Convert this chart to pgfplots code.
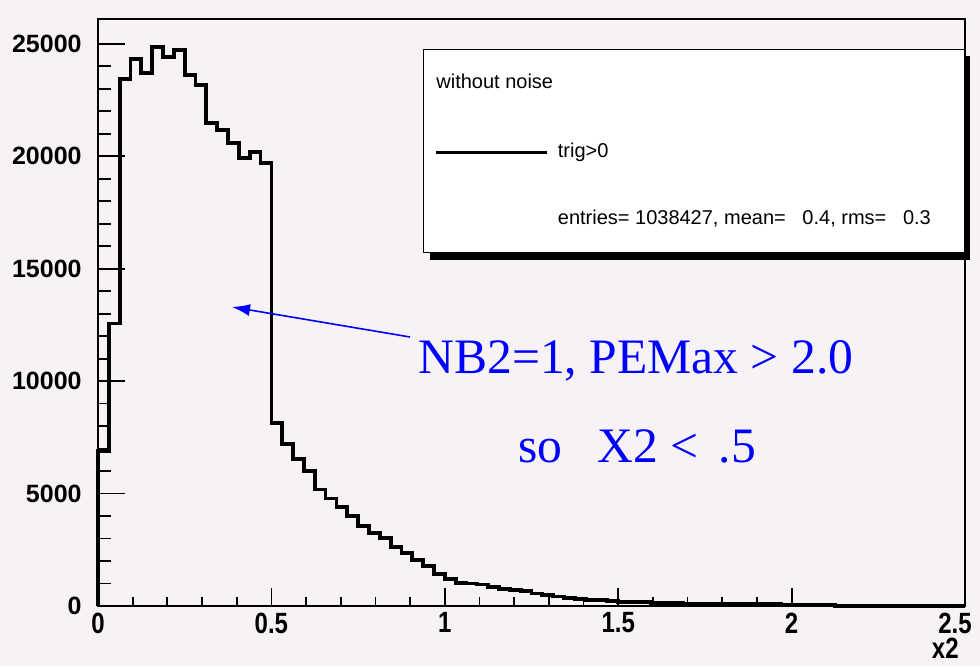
\documentclass[border=0pt]{standalone}
\usepackage{pgfplots}
\pgfplotsset{compat=1.18}
\usepackage{pgfplotstable}
\usepackage{fontspec}
\setmainfont{Liberation Sans}
\newfontfamily\timesfont{Liberation Serif}
\usetikzlibrary{arrows.meta}

\definecolor{bgcol}{RGB}{246,242,246}
\definecolor{noteblue}{RGB}{0,0,255}

% x2 histogram, 80 bins of 0.03125 (left edges), trig>0 without noise
\pgfplotstableread{
x y
0 0
0 6900
0.03125 12560
0.0625 23440
0.09375 24330
0.125 23690
0.15625 24850
0.1875 24400
0.21875 24730
0.25 23620
0.28125 23150
0.3125 21470
0.34375 21150
0.375 20580
0.40625 19920
0.4375 20180
0.46875 19690
0.5 8140
0.53125 7200
0.5625 6530
0.59375 6010
0.625 5180
0.65625 4780
0.6875 4410
0.71875 4000
0.75 3550
0.78125 3260
0.8125 3010
0.84375 2610
0.875 2370
0.90625 2040
0.9375 1790
0.96875 1440
1.0 1210
1.03125 1010
1.0625 1000
1.09375 960
1.125 860
1.15625 760
1.1875 700
1.21875 660
1.25 560
1.28125 500
1.3125 420
1.34375 350
1.375 320
1.40625 270
1.4375 250
1.46875 220
1.5 190
1.53125 180
1.5625 170
1.59375 150
1.625 130
1.65625 120
1.6875 110
1.71875 100
1.75 95
1.78125 90
1.8125 90
1.84375 85
1.875 80
1.90625 80
1.9375 75
1.96875 70
2.0 70
2.03125 65
2.0625 60
2.09375 60
2.125 0
2.5 0
}\histdata

\pgfplotsset{
  frame/.style={
    at={(49pt,30pt)}, anchor=south west,
    scale only axis, width=433.5pt, height=293.5pt,
    xmin=0, xmax=2.5, ymin=0, ymax=26100,
    tick align=inside, tick pos=left,
    axis line style={line width=0.9pt},
    tick style={black, line width=0.9pt},
    /pgf/number format/assume math mode=true,
    /pgf/number format/1000 sep={},
    scaled ticks=false,
    clip=false,
  },
}

\begin{document}
\begin{tikzpicture}
\fill[bgcol] (0,0) rectangle (490pt,333pt);

% x ticks and the histogram
\begin{axis}[
  frame,
  xtick={0,0.5,1,1.5,2}, minor x tick num=4,
  extra x ticks={2.5},
  extra x tick style={xticklabel style={xshift=-5pt}},
  ytick=\empty,
  major tick length=9pt, minor tick length=4.5pt,
  xticklabel style={font=\bfseries\fontsize{12}{12}\selectfont, yscale=1.22,
    inner sep=0pt, anchor=north, yshift=-2.5pt},
  xlabel={x2},
  x label style={at={(rel axis cs:1,0)}, anchor=north east, inner sep=0pt,
    yshift=-16pt, xshift=-3pt, font=\bfseries\fontsize{12}{12}\selectfont, yscale=1.22},
]
\addplot[const plot mark left, black, line width=1.9pt, line join=miter] table[x=x, y=y] {\histdata};
\end{axis}

% y ticks
\begin{axis}[
  frame,
  xtick=\empty,
  ytick={0,5000,10000,15000,20000,25000}, minor y tick num=4,
  major tick length=13.5pt, minor tick length=6.5pt,
  yticklabel style={font=\bfseries\fontsize{12.5}{12.5}\selectfont, inner sep=0pt,
    anchor=east, xshift=-8pt},
]
\end{axis}

\begin{scope}[x=0.5pt, y=-0.5pt, yshift=333pt]
  % stats box
  \fill[black] (430,56) rectangle (970,259.6);
  \filldraw[fill=white, draw=black, line width=0.5pt] (423.6,49) rectangle (964.6,252.5);
  \node[anchor=west, inner sep=0pt, font=\fontsize{10}{12}\selectfont] at (436,81) {without noise};
  \draw[black, line width=1.75pt] (436,152.5) -- (547,152.5);
  \node[anchor=west, inner sep=0pt, font=\fontsize{10}{12}\selectfont] at (557.5,152.5) {trig>0};
  \node[anchor=west, inner sep=0pt, font=\fontsize{10}{12}\selectfont] at (557.5,218.6)
    {entries= 1038427, mean=\ \ \ 0.4, rms=\ \ \ 0.3};

  % annotation
  \draw[noteblue, line width=0.8pt, -{Latex[length=9pt, width=6pt]}] (410,337) -- (232,307);
  \node[anchor=base west, inner sep=0pt, text=noteblue, font=\timesfont\fontsize{24.8}{28}\selectfont]
    at (418,373) {NB2=1, PEMax > 2.0};
  \node[anchor=base west, inner sep=0pt, text=noteblue, font=\timesfont\fontsize{24.8}{28}\selectfont]
    at (518,462) {so};
  \node[anchor=base west, inner sep=0pt, text=noteblue, font=\timesfont\fontsize{24.8}{28}\selectfont]
    at (597,462) {X2 < \kern4pt.5};
\end{scope}

\pgfresetboundingbox
\useasboundingbox (0,0) rectangle (490pt,333pt);
\end{tikzpicture}
\end{document}
